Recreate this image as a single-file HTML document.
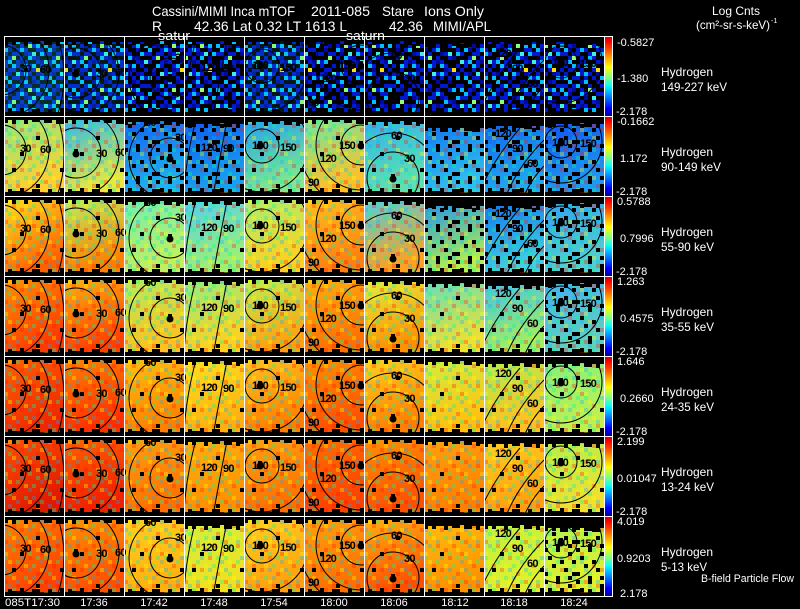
<!DOCTYPE html>
<html><head><meta charset="utf-8"><style>html,body{margin:0;padding:0;background:#000;width:800px;height:609px;overflow:hidden}svg{display:block}</style></head><body>
<svg xmlns="http://www.w3.org/2000/svg" width="800" height="609" viewBox="0 0 800 609" font-family="'Liberation Sans', sans-serif">
<defs>
<pattern id="p1" width="44" height="44" patternUnits="userSpaceOnUse">
<rect width="44" height="44" fill="#0018d0"/>
<path fill="#000" d="M0 0h4v4h-4zM8 0h8v4h-8zM24 0h4v4h-4zM36 0h8v4h-8zM4 4h4v4h-4zM16 4h4v4h-4zM28 4h8v4h-8zM0 8h4v4h-4zM12 8h4v4h-4zM20 8h4v4h-4zM36 8h4v4h-4zM8 12h4v4h-4zM24 12h8v4h-8zM40 12h4v4h-4zM4 16h4v4h-4zM16 16h4v4h-4zM32 16h4v4h-4zM0 20h4v4h-4zM12 20h4v4h-4zM20 20h4v4h-4zM36 20h8v4h-8zM8 24h4v4h-4zM24 24h8v4h-8zM4 28h4v4h-4zM16 28h4v4h-4zM32 28h4v4h-4zM40 28h4v4h-4zM0 32h4v4h-4zM12 32h4v4h-4zM20 32h4v4h-4zM36 32h4v4h-4zM8 36h4v4h-4zM28 36h4v4h-4zM40 36h4v4h-4zM4 40h4v4h-4zM16 40h4v4h-4zM24 40h4v4h-4zM32 40h4v4h-4z"/>
<path fill="#00c0ff" d="M4 0h4v4h-4zM20 0h4v4h-4zM12 4h4v4h-4zM40 8h4v4h-4zM32 8h4v4h-4zM0 12h4v4h-4zM16 12h4v4h-4zM36 16h4v4h-4zM24 20h4v4h-4zM4 24h4v4h-4zM8 28h4v4h-4zM20 28h4v4h-4zM28 28h4v4h-4zM20 36h4v4h-4zM0 40h4v4h-4zM36 40h4v4h-4z"/>
<path fill="#40f0e0" d="M28 16h4v4h-4zM12 36h4v4h-4zM40 24h4v4h-4z"/>
<path fill="#90ff70" d="M24 8h4v4h-4zM8 20h4v4h-4z"/>
<path fill="#ffe000" d="M32 32h4v4h-4z"/>
<path fill="#0008a0" d="M16 0h4v4h-4zM28 0h4v4h-4zM8 8h4v4h-4zM4 12h4v4h-4zM20 16h4v4h-4zM32 20h4v4h-4zM16 24h4v4h-4zM36 24h4v4h-4zM24 32h4v4h-4zM4 36h4v4h-4zM32 36h4v4h-4z"/>
</pattern>
<pattern id="nz" width="40" height="40" patternUnits="userSpaceOnUse">
<path fill="#00ff90" opacity=".35" d="M0 0h4v4h-4zM12 4h4v4h-4zM28 8h4v4h-4zM4 16h4v4h-4zM20 20h4v4h-4zM36 24h4v4h-4zM8 32h4v4h-4zM24 36h4v4h-4zM32 0h4v4h-4z"/>
<path fill="#ff1000" opacity=".3" d="M8 8h4v4h-4zM24 0h4v4h-4zM16 12h4v4h-4zM32 16h4v4h-4zM0 24h4v4h-4zM12 28h4v4h-4zM28 28h4v4h-4zM36 36h4v4h-4zM20 32h4v4h-4z"/>
<path fill="#ffff00" opacity=".35" d="M4 4h4v4h-4zM20 8h4v4h-4zM36 12h4v4h-4zM8 20h4v4h-4zM24 24h4v4h-4zM16 36h4v4h-4zM0 36h4v4h-4zM32 32h4v4h-4z"/>
<path fill="#00b0ff" opacity=".3" d="M16 0h4v4h-4zM36 4h4v4h-4zM0 12h4v4h-4zM28 20h4v4h-4zM12 24h4v4h-4zM4 28h4v4h-4zM24 12h4v4h-4z"/>
</pattern>
<pattern id="ho" width="48" height="48" patternUnits="userSpaceOnUse">
<path fill="#000" d="M8 4h4v4h-4zM32 20h4v4h-4zM16 36h4v4h-4z"/>
</pattern>
<pattern id="ho2" width="32" height="32" patternUnits="userSpaceOnUse">
<path fill="#000" d="M0 0h4v4h-4zM12 0h4v4h-4zM24 4h4v4h-4zM4 8h4v4h-4zM16 12h4v4h-4zM28 12h4v4h-4zM8 16h4v4h-4zM20 20h4v4h-4zM0 24h4v4h-4zM28 24h4v4h-4zM12 28h4v4h-4zM24 28h4v4h-4z"/>
</pattern>
<linearGradient id="cb" x2="0" y2="1"><stop stop-color="#d00000"/><stop offset=".06" stop-color="#ff0000"/><stop offset=".22" stop-color="#ff8000"/><stop offset=".38" stop-color="#ffff00"/><stop offset=".5" stop-color="#90ff70"/><stop offset=".62" stop-color="#00ffff"/><stop offset=".76" stop-color="#0080ff"/><stop offset=".9" stop-color="#0000ff"/><stop offset="1" stop-color="#0000a0"/></linearGradient>

<linearGradient id="a21" x2=".3" y2="1"><stop stop-color="#90e880"/><stop offset="1" stop-color="#ffd030"/></linearGradient>
<linearGradient id="a22" x2=".3" y2="1"><stop stop-color="#30b8f0"/><stop offset="1" stop-color="#e8e840"/></linearGradient>
<linearGradient id="a23" x2=".3" y2="1"><stop stop-color="#1060f0"/><stop offset="1" stop-color="#20b0f0"/></linearGradient>
<linearGradient id="a24" x2=".3" y2="1"><stop stop-color="#1058f0"/><stop offset="1" stop-color="#18a0f0"/></linearGradient>
<linearGradient id="a25" x2=".3" y2="1"><stop stop-color="#20a0f0"/><stop offset="1" stop-color="#80e890"/></linearGradient>
<linearGradient id="a26" x2=".3" y2="1"><stop stop-color="#70e8a0"/><stop offset="1" stop-color="#ffc028"/></linearGradient>
<linearGradient id="a27" x2=".3" y2="1"><stop stop-color="#30b0f0"/><stop offset="1" stop-color="#60e0b0"/></linearGradient>
<linearGradient id="a28" x2=".3" y2="1"><stop stop-color="#1070f0"/><stop offset="1" stop-color="#30c0f0"/></linearGradient>
<linearGradient id="a29" x2=".3" y2="1"><stop stop-color="#1060f0"/><stop offset="1" stop-color="#20a8f0"/></linearGradient>
<linearGradient id="a210" x2=".3" y2="1"><stop stop-color="#1050f0"/><stop offset="1" stop-color="#2098f0"/></linearGradient>

<linearGradient id="a31" x2=".5" y2="1"><stop stop-color="#ffe020"/><stop offset="1" stop-color="#ff6000"/></linearGradient>
<linearGradient id="a32" x2=".3" y2="1"><stop stop-color="#b8f060"/><stop offset="1" stop-color="#ff8000"/></linearGradient>
<linearGradient id="a33" x2=".3" y2="1"><stop stop-color="#70f0b0"/><stop offset="1" stop-color="#c0f060"/></linearGradient>
<linearGradient id="a34" x2=".3" y2="1"><stop stop-color="#50d0f0"/><stop offset="1" stop-color="#a0f070"/></linearGradient>
<linearGradient id="a35" x2=".3" y2="1"><stop stop-color="#a8f070"/><stop offset="1" stop-color="#ffd020"/></linearGradient>
<linearGradient id="a36" x2=".3" y2="1"><stop stop-color="#ffc020"/><stop offset="1" stop-color="#ff8010"/></linearGradient>
<linearGradient id="a37" x2=".3" y2="1"><stop stop-color="#50d0e0"/><stop offset="1" stop-color="#ffa020"/></linearGradient>
<linearGradient id="a38" x2=".3" y2="1"><stop stop-color="#2090f0"/><stop offset="1" stop-color="#b0f050"/></linearGradient>
<linearGradient id="a39" x2=".3" y2="1"><stop stop-color="#1070f0"/><stop offset="1" stop-color="#40d0e0"/></linearGradient>
<linearGradient id="a310" x2=".3" y2="1"><stop stop-color="#30a0f0"/><stop offset="1" stop-color="#50d0d0"/></linearGradient>

<linearGradient id="a41" x2=".5" y2="1"><stop stop-color="#ff9000"/><stop offset="1" stop-color="#ff3800"/></linearGradient>
<linearGradient id="a42" x2=".3" y2="1"><stop stop-color="#ffb010"/><stop offset="1" stop-color="#ff4000"/></linearGradient>
<linearGradient id="a43" x2=".3" y2="1"><stop stop-color="#b0f060"/><stop offset="1" stop-color="#ffc020"/></linearGradient>
<linearGradient id="a44" x2=".3" y2="1"><stop stop-color="#90f080"/><stop offset="1" stop-color="#ffd020"/></linearGradient>
<linearGradient id="a45" x2=".3" y2="1"><stop stop-color="#c0f050"/><stop offset="1" stop-color="#ffa010"/></linearGradient>
<linearGradient id="a46" x2=".3" y2="1"><stop stop-color="#ffb010"/><stop offset="1" stop-color="#ff7000"/></linearGradient>
<linearGradient id="a47" x2=".3" y2="1"><stop stop-color="#e0f040"/><stop offset="1" stop-color="#ff9000"/></linearGradient>
<linearGradient id="a48" x2=".3" y2="1"><stop stop-color="#60e0c0"/><stop offset="1" stop-color="#f0e030"/></linearGradient>
<linearGradient id="a49" x2=".3" y2="1"><stop stop-color="#40c0f0"/><stop offset="1" stop-color="#a0f060"/></linearGradient>
<linearGradient id="a410" x2=".3" y2="1"><stop stop-color="#40b0f0"/><stop offset="1" stop-color="#60d0c0"/></linearGradient>

<linearGradient id="a51" x2=".5" y2="1"><stop stop-color="#ff6000"/><stop offset="1" stop-color="#f02800"/></linearGradient>
<linearGradient id="a52" x2=".3" y2="1"><stop stop-color="#ff8000"/><stop offset="1" stop-color="#ff3000"/></linearGradient>
<linearGradient id="a53" x2=".3" y2="1"><stop stop-color="#ffc010"/><stop offset="1" stop-color="#ff8000"/></linearGradient>
<linearGradient id="a54" x2=".3" y2="1"><stop stop-color="#ffe020"/><stop offset="1" stop-color="#ffb010"/></linearGradient>
<linearGradient id="a55" x2=".3" y2="1"><stop stop-color="#ffc020"/><stop offset="1" stop-color="#ff8000"/></linearGradient>
<linearGradient id="a56" x2=".3" y2="1"><stop stop-color="#ff9000"/><stop offset="1" stop-color="#ff5000"/></linearGradient>
<linearGradient id="a57" x2=".3" y2="1"><stop stop-color="#ffd020"/><stop offset="1" stop-color="#ff8000"/></linearGradient>
<linearGradient id="a58" x2=".3" y2="1"><stop stop-color="#d0f040"/><stop offset="1" stop-color="#ffc010"/></linearGradient>
<linearGradient id="a59" x2=".3" y2="1"><stop stop-color="#b0f050"/><stop offset="1" stop-color="#ffc020"/></linearGradient>
<linearGradient id="a510" x2=".3" y2="1"><stop stop-color="#80f080"/><stop offset="1" stop-color="#c0f050"/></linearGradient>

<linearGradient id="a61" x2=".5" y2="1"><stop stop-color="#ff5000"/><stop offset="1" stop-color="#e01800"/></linearGradient>
<linearGradient id="a62" x2=".3" y2="1"><stop stop-color="#ff6000"/><stop offset="1" stop-color="#f02000"/></linearGradient>
<linearGradient id="a63" x2=".3" y2="1"><stop stop-color="#ffa010"/><stop offset="1" stop-color="#ff7000"/></linearGradient>
<linearGradient id="a64" x2=".3" y2="1"><stop stop-color="#ffb010"/><stop offset="1" stop-color="#ff9000"/></linearGradient>
<linearGradient id="a65" x2=".3" y2="1"><stop stop-color="#ffa010"/><stop offset="1" stop-color="#ff7000"/></linearGradient>
<linearGradient id="a66" x2=".3" y2="1"><stop stop-color="#ff7000"/><stop offset="1" stop-color="#ff4000"/></linearGradient>
<linearGradient id="a67" x2=".3" y2="1"><stop stop-color="#ff9000"/><stop offset="1" stop-color="#ff5000"/></linearGradient>
<linearGradient id="a68" x2=".3" y2="1"><stop stop-color="#ffa010"/><stop offset="1" stop-color="#ff8000"/></linearGradient>
<linearGradient id="a69" x2=".3" y2="1"><stop stop-color="#ffd020"/><stop offset="1" stop-color="#ffa010"/></linearGradient>
<linearGradient id="a610" x2=".3" y2="1"><stop stop-color="#b0f050"/><stop offset="1" stop-color="#f0e030"/></linearGradient>

<linearGradient id="a71" x2=".5" y2="1"><stop stop-color="#ff8000"/><stop offset="1" stop-color="#ff4000"/></linearGradient>
<linearGradient id="a72" x2=".3" y2="1"><stop stop-color="#ff9000"/><stop offset="1" stop-color="#ff5000"/></linearGradient>
<linearGradient id="a73" x2=".3" y2="1"><stop stop-color="#ffd020"/><stop offset="1" stop-color="#ffb010"/></linearGradient>
<linearGradient id="a74" x2=".3" y2="1"><stop stop-color="#d0f040"/><stop offset="1" stop-color="#f0e020"/></linearGradient>
<linearGradient id="a75" x2=".3" y2="1"><stop stop-color="#ffd020"/><stop offset="1" stop-color="#ffa010"/></linearGradient>
<linearGradient id="a76" x2=".3" y2="1"><stop stop-color="#ffa010"/><stop offset="1" stop-color="#ff7000"/></linearGradient>
<linearGradient id="a77" x2=".3" y2="1"><stop stop-color="#ffb010"/><stop offset="1" stop-color="#ff5000"/></linearGradient>
<linearGradient id="a78" x2=".3" y2="1"><stop stop-color="#ffc010"/><stop offset="1" stop-color="#ff9000"/></linearGradient>
<linearGradient id="a79" x2=".3" y2="1"><stop stop-color="#c0f040"/><stop offset="1" stop-color="#e0f030"/></linearGradient>
<linearGradient id="a710" x2=".3" y2="1"><stop stop-color="#b0f050"/><stop offset="1" stop-color="#e0f030"/></linearGradient>

<path id="tm" d="M0 -15H60V5H56V9H52V5H48V8H40V4H36V7H28V5H24V9H20V5H12V8H8V5H4V8H0Z"/>
<path id="bm" d="M0 80H60V72H56V76H48V73H44V77H36V73H28V76H20V72H16V75H8V73H4V76H0Z"/>
<g id="bl"><circle r="3.5" cy="1"/><rect x="-2" y="-4" width="4" height="3"/></g>
<g id="k1" fill="none" stroke="#000"><circle cx="-3" cy="34" r="25"/><circle cx="-3" cy="34" r="48"/><path d="M53.1 0A120 120 0 0 1 53.1 80"/></g>
<g id="k2"><g fill="none" stroke="#000"><circle cx="12" cy="37" r="25"/><circle cx="12" cy="37" r="43"/></g><use href="#bl" x="12" y="37"/></g>
<g id="k3"><g fill="none" stroke="#000"><circle cx="46" cy="42" r="20"/><circle cx="46" cy="42" r="41"/></g><use href="#bl" x="46" y="42"/></g>
<g id="k4" fill="none" stroke="#000"><path d="M13 0Q2 40 0 76"/><path d="M44 0Q36 40 29 80"/></g>
<g id="k5"><g fill="none" stroke="#000"><circle cx="18" cy="30" r="17"/><circle cx="18" cy="30" r="46"/></g><use href="#bl" x="16" y="29"/></g>
<g id="k6"><g fill="none" stroke="#000"><circle cx="57" cy="29" r="20"/><circle cx="57" cy="29" r="45"/><circle cx="57" cy="29" r="62"/></g><use href="#bl" x="57" y="29"/></g>
<g id="k7"><g fill="none" stroke="#000"><circle cx="29" cy="62" r="26"/><path d="M0 27.6A45 45 0 0 1 60 29.4"/></g><use href="#bl" x="29" y="62"/></g>
<g id="k9" fill="none" stroke="#000"><path d="M0 66Q14 38 36 12"/><path d="M22 80Q34 50 60 24"/><path d="M40 80Q48 62 60 50"/></g>
<g id="k10"><g fill="none" stroke="#000"><circle cx="17" cy="26" r="16"/><circle cx="17" cy="26" r="41"/></g><use href="#bl" x="17" y="26"/></g>
</defs>

<rect width="800" height="609" fill="#000"/>

<!-- Row 1 -->
<g transform="translate(0,36)">
<svg x="4" width="60" height="80"><rect y="4" width="60" height="72" fill="url(#p1)"/><rect y="4" width="60" height="72" fill="#20e0c0" opacity=".2"/><use href="#tm" y="1"/><use href="#bm"/><use href="#k1"/></svg>
<svg x="64" width="60" height="80"><rect x="-12" y="4" width="60" height="72" fill="url(#p1)" transform="translate(12)"/><rect y="4" width="60" height="72" fill="#20e0c0" opacity=".1"/><use href="#tm" y="1"/><use href="#bm"/><use href="#k2"/></svg>
<svg x="124" width="60" height="80"><rect x="-24" y="4" width="60" height="72" fill="url(#p1)" transform="translate(24)"/><rect width="60" height="80" fill="url(#ho2)"/><use href="#tm" y="1"/><use href="#bm"/><use href="#k3"/></svg>
<svg x="184" width="60" height="80"><rect x="-36" y="4" width="60" height="72" fill="url(#p1)" transform="translate(36)"/><rect width="60" height="80" fill="url(#ho2)"/><use href="#tm" y="1"/><use href="#bm"/><use href="#k4"/></svg>
<svg x="244" width="60" height="80"><rect x="-4" y="4" width="60" height="72" fill="url(#p1)" transform="translate(4)"/><rect y="4" width="60" height="72" fill="#20e0c0" opacity=".1"/><use href="#tm" y="1"/><use href="#bm"/><use href="#k5"/></svg>
<svg x="304" width="60" height="80"><rect x="-16" y="4" width="60" height="72" fill="url(#p1)" transform="translate(16)"/><rect width="60" height="80" fill="url(#ho2)"/><use href="#tm" y="1"/><use href="#bm"/><use href="#k6"/></svg>
<svg x="364" width="60" height="80"><rect x="-28" y="4" width="60" height="72" fill="url(#p1)" transform="translate(28)"/><rect width="60" height="80" fill="url(#ho2)"/><use href="#tm" y="1"/><use href="#bm"/><use href="#k7"/></svg>
<svg x="424" width="60" height="80"><rect x="-40" y="4" width="60" height="72" fill="url(#p1)" transform="translate(40)"/><rect width="60" height="80" fill="url(#ho2)"/><use href="#tm" y="3"/><use href="#bm"/></svg>
<svg x="484" width="60" height="80"><rect x="-8" y="4" width="60" height="72" fill="url(#p1)" transform="translate(8)"/><rect width="60" height="80" fill="url(#ho2)"/><use href="#tm" y="1"/><use href="#bm"/><use href="#k9"/></svg>
<svg x="544" width="60" height="80"><rect x="-20" y="4" width="60" height="72" fill="url(#p1)" transform="translate(20)"/><rect width="60" height="80" fill="url(#ho2)"/><use href="#tm" y="1"/><use href="#bm"/><use href="#k10"/></svg>
</g>

<!-- Row 2 -->
<g transform="translate(0,116)">
<svg x="4" width="60" height="80"><rect y="4" width="60" height="72" fill="url(#a21)"/><rect width="60" height="80" fill="url(#nz)"/><rect width="60" height="80" fill="url(#ho)"/><use href="#tm" y="-1"/><use href="#bm"/><use href="#k1"/></svg>
<svg x="64" width="60" height="80"><rect y="4" width="60" height="72" fill="url(#a22)"/><rect width="60" height="80" fill="url(#nz)"/><rect width="60" height="80" fill="url(#ho)"/><use href="#tm" y="-1"/><use href="#bm"/><use href="#k2"/></svg>
<svg x="124" width="60" height="80"><rect y="4" width="60" height="72" fill="url(#a23)"/><rect width="60" height="80" fill="url(#nz)"/><rect width="60" height="80" fill="url(#ho2)"/><use href="#tm" y="1"/><use href="#bm"/><use href="#k3"/></svg>
<svg x="184" width="60" height="80"><rect y="4" width="60" height="72" fill="url(#a24)"/><rect width="60" height="80" fill="url(#nz)"/><rect width="60" height="80" fill="url(#ho2)"/><use href="#tm" y="3"/><use href="#bm"/><use href="#k4"/></svg>
<svg x="244" width="60" height="80"><rect y="4" width="60" height="72" fill="url(#a25)"/><rect width="60" height="80" fill="url(#nz)"/><rect width="60" height="80" fill="url(#ho)"/><use href="#tm" y="1"/><use href="#bm"/><use href="#k5"/></svg>
<svg x="304" width="60" height="80"><rect y="4" width="60" height="72" fill="url(#a26)"/><rect width="60" height="80" fill="url(#nz)"/><rect width="60" height="80" fill="url(#ho)"/><use href="#tm" y="-1"/><use href="#bm"/><use href="#k6"/></svg>
<svg x="364" width="60" height="80"><rect y="4" width="60" height="72" fill="url(#a27)"/><rect width="60" height="80" fill="url(#nz)"/><rect width="60" height="80" fill="url(#ho)"/><use href="#tm" y="1"/><use href="#bm"/><use href="#k7"/></svg>
<svg x="424" width="60" height="80"><rect y="4" width="60" height="72" fill="url(#a28)"/><rect width="60" height="80" fill="url(#nz)"/><rect width="60" height="80" fill="url(#ho2)"/><use href="#tm" y="7"/><use href="#bm"/></svg>
<svg x="484" width="60" height="80"><rect y="4" width="60" height="72" fill="url(#a29)"/><rect width="60" height="80" fill="url(#nz)"/><rect width="60" height="80" fill="url(#ho2)"/><use href="#tm" y="5"/><use href="#bm"/><use href="#k9"/></svg>
<svg x="544" width="60" height="80"><rect y="4" width="60" height="72" fill="url(#a210)"/><rect width="60" height="80" fill="url(#nz)"/><rect width="60" height="80" fill="url(#ho2)"/><use href="#tm" y="3"/><use href="#bm"/><use href="#k10"/></svg>
</g>

<!-- Row 3 -->
<g transform="translate(0,196)">
<svg x="4" width="60" height="80"><rect y="4" width="60" height="72" fill="url(#a31)"/><rect width="60" height="80" fill="url(#nz)"/><rect width="60" height="80" fill="url(#ho)"/><use href="#tm" y="-1"/><use href="#bm"/><use href="#k1"/></svg>
<svg x="64" width="60" height="80"><rect y="4" width="60" height="72" fill="url(#a32)"/><rect width="60" height="80" fill="url(#nz)"/><rect width="60" height="80" fill="url(#ho)"/><use href="#tm" y="-1"/><use href="#bm"/><use href="#k2"/></svg>
<svg x="124" width="60" height="80"><rect y="4" width="60" height="72" fill="url(#a33)"/><rect width="60" height="80" fill="url(#nz)"/><rect width="60" height="80" fill="url(#ho)"/><use href="#tm" y="1"/><use href="#bm"/><use href="#k3"/></svg>
<svg x="184" width="60" height="80"><rect y="4" width="60" height="72" fill="url(#a34)"/><rect width="60" height="80" fill="url(#nz)"/><rect width="60" height="80" fill="url(#ho)"/><use href="#tm" y="1"/><use href="#bm"/><use href="#k4"/></svg>
<svg x="244" width="60" height="80"><rect y="4" width="60" height="72" fill="url(#a35)"/><rect width="60" height="80" fill="url(#nz)"/><rect width="60" height="80" fill="url(#ho)"/><use href="#tm" y="-1"/><use href="#bm"/><use href="#k5"/></svg>
<svg x="304" width="60" height="80"><rect y="4" width="60" height="72" fill="url(#a36)"/><rect width="60" height="80" fill="url(#nz)"/><rect width="60" height="80" fill="url(#ho)"/><use href="#tm" y="-1"/><use href="#bm"/><use href="#k6"/></svg>
<svg x="364" width="60" height="80"><rect y="4" width="60" height="72" fill="url(#a37)"/><rect width="60" height="80" fill="url(#nz)"/><rect width="60" height="80" fill="url(#ho)"/><use href="#tm" y="1"/><use href="#bm"/><use href="#k7"/></svg>
<svg x="424" width="60" height="80"><rect y="4" width="60" height="72" fill="url(#a38)"/><rect width="60" height="80" fill="url(#nz)"/><rect width="60" height="80" fill="url(#ho2)"/><use href="#tm" y="5"/><use href="#bm"/></svg>
<svg x="484" width="60" height="80"><rect y="4" width="60" height="72" fill="url(#a39)"/><rect width="60" height="80" fill="url(#nz)"/><rect width="60" height="80" fill="url(#ho2)"/><use href="#tm" y="5"/><use href="#bm"/><use href="#k9"/></svg>
<svg x="544" width="60" height="80"><rect y="4" width="60" height="72" fill="url(#a310)"/><rect width="60" height="80" fill="url(#nz)"/><rect width="60" height="80" fill="url(#ho2)"/><use href="#tm" y="3"/><use href="#bm"/><use href="#k10"/></svg>
</g>

<!-- Row 4 -->
<g transform="translate(0,276)">
<svg x="4" width="60" height="80"><rect y="4" width="60" height="72" fill="url(#a41)"/><rect width="60" height="80" fill="url(#nz)"/><rect width="60" height="80" fill="url(#ho)"/><use href="#tm" y="-1"/><use href="#bm"/><use href="#k1"/></svg>
<svg x="64" width="60" height="80"><rect y="4" width="60" height="72" fill="url(#a42)"/><rect width="60" height="80" fill="url(#nz)"/><rect width="60" height="80" fill="url(#ho)"/><use href="#tm" y="-1"/><use href="#bm"/><use href="#k2"/></svg>
<svg x="124" width="60" height="80"><rect y="4" width="60" height="72" fill="url(#a43)"/><rect width="60" height="80" fill="url(#nz)"/><rect width="60" height="80" fill="url(#ho)"/><use href="#tm" y="-1"/><use href="#bm"/><use href="#k3"/></svg>
<svg x="184" width="60" height="80"><rect y="4" width="60" height="72" fill="url(#a44)"/><rect width="60" height="80" fill="url(#nz)"/><rect width="60" height="80" fill="url(#ho)"/><use href="#tm" y="1"/><use href="#bm"/><use href="#k4"/></svg>
<svg x="244" width="60" height="80"><rect y="4" width="60" height="72" fill="url(#a45)"/><rect width="60" height="80" fill="url(#nz)"/><rect width="60" height="80" fill="url(#ho)"/><use href="#tm" y="-1"/><use href="#bm"/><use href="#k5"/></svg>
<svg x="304" width="60" height="80"><rect y="4" width="60" height="72" fill="url(#a46)"/><rect width="60" height="80" fill="url(#nz)"/><rect width="60" height="80" fill="url(#ho)"/><use href="#tm" y="-1"/><use href="#bm"/><use href="#k6"/></svg>
<svg x="364" width="60" height="80"><rect y="4" width="60" height="72" fill="url(#a47)"/><rect width="60" height="80" fill="url(#nz)"/><rect width="60" height="80" fill="url(#ho)"/><use href="#tm" y="1"/><use href="#bm"/><use href="#k7"/></svg>
<svg x="424" width="60" height="80"><rect y="4" width="60" height="72" fill="url(#a48)"/><rect width="60" height="80" fill="url(#nz)"/><rect width="60" height="80" fill="url(#ho)"/><use href="#tm" y="3"/><use href="#bm"/></svg>
<svg x="484" width="60" height="80"><rect y="4" width="60" height="72" fill="url(#a49)"/><rect width="60" height="80" fill="url(#nz)"/><rect width="60" height="80" fill="url(#ho)"/><use href="#tm" y="5"/><use href="#bm"/><use href="#k9"/></svg>
<svg x="544" width="60" height="80"><rect y="4" width="60" height="72" fill="url(#a410)"/><rect width="60" height="80" fill="url(#nz)"/><rect width="60" height="80" fill="url(#ho2)"/><use href="#tm" y="3"/><use href="#bm"/><use href="#k10"/></svg>
</g>

<!-- Row 5 -->
<g transform="translate(0,356)">
<svg x="4" width="60" height="80"><rect y="4" width="60" height="72" fill="url(#a51)"/><rect width="60" height="80" fill="url(#nz)"/><rect width="60" height="80" fill="url(#ho)"/><use href="#tm" y="-1"/><use href="#bm"/><use href="#k1"/></svg>
<svg x="64" width="60" height="80"><rect y="4" width="60" height="72" fill="url(#a52)"/><rect width="60" height="80" fill="url(#nz)"/><rect width="60" height="80" fill="url(#ho)"/><use href="#tm" y="-1"/><use href="#bm"/><use href="#k2"/></svg>
<svg x="124" width="60" height="80"><rect y="4" width="60" height="72" fill="url(#a53)"/><rect width="60" height="80" fill="url(#nz)"/><rect width="60" height="80" fill="url(#ho)"/><use href="#tm" y="-1"/><use href="#bm"/><use href="#k3"/></svg>
<svg x="184" width="60" height="80"><rect y="4" width="60" height="72" fill="url(#a54)"/><rect width="60" height="80" fill="url(#nz)"/><rect width="60" height="80" fill="url(#ho)"/><use href="#tm" y="1"/><use href="#bm"/><use href="#k4"/></svg>
<svg x="244" width="60" height="80"><rect y="4" width="60" height="72" fill="url(#a55)"/><rect width="60" height="80" fill="url(#nz)"/><rect width="60" height="80" fill="url(#ho)"/><use href="#tm" y="-1"/><use href="#bm"/><use href="#k5"/></svg>
<svg x="304" width="60" height="80"><rect y="4" width="60" height="72" fill="url(#a56)"/><rect width="60" height="80" fill="url(#nz)"/><rect width="60" height="80" fill="url(#ho)"/><use href="#tm" y="-1"/><use href="#bm"/><use href="#k6"/></svg>
<svg x="364" width="60" height="80"><rect y="4" width="60" height="72" fill="url(#a57)"/><rect width="60" height="80" fill="url(#nz)"/><rect width="60" height="80" fill="url(#ho)"/><use href="#tm" y="-1"/><use href="#bm"/><use href="#k7"/></svg>
<svg x="424" width="60" height="80"><rect y="4" width="60" height="72" fill="url(#a58)"/><rect width="60" height="80" fill="url(#nz)"/><rect width="60" height="80" fill="url(#ho)"/><use href="#tm" y="1"/><use href="#bm"/></svg>
<svg x="484" width="60" height="80"><rect y="4" width="60" height="72" fill="url(#a59)"/><rect width="60" height="80" fill="url(#nz)"/><rect width="60" height="80" fill="url(#ho)"/><use href="#tm" y="3"/><use href="#bm"/><use href="#k9"/></svg>
<svg x="544" width="60" height="80"><rect y="4" width="60" height="72" fill="url(#a510)"/><rect width="60" height="80" fill="url(#nz)"/><rect width="60" height="80" fill="url(#ho)"/><use href="#tm" y="3"/><use href="#bm"/><use href="#k10"/></svg>
</g>

<!-- Row 6 -->
<g transform="translate(0,436)">
<svg x="4" width="60" height="80"><rect y="4" width="60" height="72" fill="url(#a61)"/><rect width="60" height="80" fill="url(#nz)"/><rect width="60" height="80" fill="url(#ho)"/><use href="#tm" y="-1"/><use href="#bm"/><use href="#k1"/></svg>
<svg x="64" width="60" height="80"><rect y="4" width="60" height="72" fill="url(#a62)"/><rect width="60" height="80" fill="url(#nz)"/><rect width="60" height="80" fill="url(#ho)"/><use href="#tm" y="-1"/><use href="#bm"/><use href="#k2"/></svg>
<svg x="124" width="60" height="80"><rect y="4" width="60" height="72" fill="url(#a63)"/><rect width="60" height="80" fill="url(#nz)"/><rect width="60" height="80" fill="url(#ho)"/><use href="#tm" y="-1"/><use href="#bm"/><use href="#k3"/></svg>
<svg x="184" width="60" height="80"><rect y="4" width="60" height="72" fill="url(#a64)"/><rect width="60" height="80" fill="url(#nz)"/><rect width="60" height="80" fill="url(#ho)"/><use href="#tm" y="1"/><use href="#bm"/><use href="#k4"/></svg>
<svg x="244" width="60" height="80"><rect y="4" width="60" height="72" fill="url(#a65)"/><rect width="60" height="80" fill="url(#nz)"/><rect width="60" height="80" fill="url(#ho)"/><use href="#tm" y="-1"/><use href="#bm"/><use href="#k5"/></svg>
<svg x="304" width="60" height="80"><rect y="4" width="60" height="72" fill="url(#a66)"/><rect width="60" height="80" fill="url(#nz)"/><rect width="60" height="80" fill="url(#ho)"/><use href="#tm" y="-1"/><use href="#bm"/><use href="#k6"/></svg>
<svg x="364" width="60" height="80"><rect y="4" width="60" height="72" fill="url(#a67)"/><rect width="60" height="80" fill="url(#nz)"/><rect width="60" height="80" fill="url(#ho)"/><use href="#tm" y="-1"/><use href="#bm"/><use href="#k7"/></svg>
<svg x="424" width="60" height="80"><rect y="4" width="60" height="72" fill="url(#a68)"/><rect width="60" height="80" fill="url(#nz)"/><rect width="60" height="80" fill="url(#ho)"/><use href="#tm" y="1"/><use href="#bm"/></svg>
<svg x="484" width="60" height="80"><rect y="4" width="60" height="72" fill="url(#a69)"/><rect width="60" height="80" fill="url(#nz)"/><rect width="60" height="80" fill="url(#ho)"/><use href="#tm" y="3"/><use href="#bm"/><use href="#k9"/></svg>
<svg x="544" width="60" height="80"><rect y="4" width="60" height="72" fill="url(#a610)"/><rect width="60" height="80" fill="url(#nz)"/><rect width="60" height="80" fill="url(#ho)"/><use href="#tm" y="3"/><use href="#bm"/><use href="#k10"/></svg>
</g>

<!-- Row 7 -->
<g transform="translate(0,516)">
<svg x="4" width="60" height="80"><rect y="4" width="60" height="72" fill="url(#a71)"/><rect width="60" height="80" fill="url(#nz)"/><rect width="60" height="80" fill="url(#ho)"/><use href="#tm" y="-1"/><use href="#bm"/><use href="#k1"/></svg>
<svg x="64" width="60" height="80"><rect y="4" width="60" height="72" fill="url(#a72)"/><rect width="60" height="80" fill="url(#nz)"/><rect width="60" height="80" fill="url(#ho)"/><use href="#tm" y="-1"/><use href="#bm"/><use href="#k2"/></svg>
<svg x="124" width="60" height="80"><rect y="4" width="60" height="72" fill="url(#a73)"/><rect width="60" height="80" fill="url(#nz)"/><rect width="60" height="80" fill="url(#ho)"/><use href="#tm" y="-1"/><use href="#bm"/><use href="#k3"/></svg>
<svg x="184" width="60" height="80"><rect y="4" width="60" height="72" fill="url(#a74)"/><rect width="60" height="80" fill="url(#nz)"/><rect width="60" height="80" fill="url(#ho)"/><use href="#tm" y="5"/><use href="#bm"/><use href="#k4"/></svg>
<svg x="244" width="60" height="80"><rect y="4" width="60" height="72" fill="url(#a75)"/><rect width="60" height="80" fill="url(#nz)"/><rect width="60" height="80" fill="url(#ho)"/><use href="#tm" y="-1"/><use href="#bm"/><use href="#k5"/></svg>
<svg x="304" width="60" height="80"><rect y="4" width="60" height="72" fill="url(#a76)"/><rect width="60" height="80" fill="url(#nz)"/><rect width="60" height="80" fill="url(#ho)"/><use href="#tm" y="-1"/><use href="#bm"/><use href="#k6"/></svg>
<svg x="364" width="60" height="80"><rect y="4" width="60" height="72" fill="url(#a77)"/><rect width="60" height="80" fill="url(#nz)"/><rect width="60" height="80" fill="url(#ho)"/><use href="#tm" y="-1"/><use href="#bm"/><use href="#k7"/></svg>
<svg x="424" width="60" height="80"><rect y="4" width="60" height="72" fill="url(#a78)"/><rect width="60" height="80" fill="url(#nz)"/><rect width="60" height="80" fill="url(#ho)"/><use href="#tm" y="5"/><use href="#bm"/></svg>
<svg x="484" width="60" height="80"><rect y="4" width="60" height="72" fill="url(#a79)"/><rect width="60" height="80" fill="url(#nz)"/><rect width="60" height="80" fill="url(#ho)"/><use href="#tm" y="5"/><use href="#bm"/><use href="#k9"/></svg>
<svg x="544" width="60" height="80"><rect y="4" width="60" height="72" fill="url(#a710)"/><rect width="60" height="80" fill="url(#nz)"/><rect width="60" height="80" fill="url(#ho2)"/><use href="#tm" y="7"/><use href="#bm"/><use href="#k10"/></svg>
</g>

<!-- contour labels -->
<g font-size="11" font-weight="bold" fill="#000" letter-spacing="-0.8">
<g transform="translate(0,36)"><text x="20" y="36">30</text><text x="40" y="37">60</text><text x="96" y="41">30</text><text x="115" y="40">60</text><text x="145" y="10">60</text><text x="175" y="25">30</text><text x="201" y="35">120</text><text x="223" y="36">90</text><text x="252" y="33">180</text><text x="280" y="35">150</text><text x="320" y="46">120</text><text x="339" y="33">150</text><text x="308" y="70">90</text><text x="391" y="23">60</text><text x="404" y="46">30</text><text x="495" y="21">120</text><text x="512" y="36">90</text><text x="527" y="51">60</text><text x="552" y="30">180</text><text x="580" y="31">150</text></g>
<g transform="translate(0,116)"><text x="20" y="36">30</text><text x="40" y="37">60</text><text x="96" y="41">30</text><text x="115" y="40">60</text><text x="145" y="10">60</text><text x="175" y="25">30</text><text x="201" y="35">120</text><text x="223" y="36">90</text><text x="252" y="33">180</text><text x="280" y="35">150</text><text x="320" y="46">120</text><text x="339" y="33">150</text><text x="308" y="70">90</text><text x="391" y="23">60</text><text x="404" y="46">30</text><text x="495" y="21">120</text><text x="512" y="36">90</text><text x="527" y="51">60</text><text x="552" y="30">180</text><text x="580" y="31">150</text></g>
<g transform="translate(0,196)"><text x="20" y="36">30</text><text x="40" y="37">60</text><text x="96" y="41">30</text><text x="115" y="40">60</text><text x="145" y="10">60</text><text x="175" y="25">30</text><text x="201" y="35">120</text><text x="223" y="36">90</text><text x="252" y="33">180</text><text x="280" y="35">150</text><text x="320" y="46">120</text><text x="339" y="33">150</text><text x="308" y="70">90</text><text x="391" y="23">60</text><text x="404" y="46">30</text><text x="495" y="21">120</text><text x="512" y="36">90</text><text x="527" y="51">60</text><text x="552" y="30">180</text><text x="580" y="31">150</text></g>
<g transform="translate(0,276)"><text x="20" y="36">30</text><text x="40" y="37">60</text><text x="96" y="41">30</text><text x="115" y="40">60</text><text x="145" y="10">60</text><text x="175" y="25">30</text><text x="201" y="35">120</text><text x="223" y="36">90</text><text x="252" y="33">180</text><text x="280" y="35">150</text><text x="320" y="46">120</text><text x="339" y="33">150</text><text x="308" y="70">90</text><text x="391" y="23">60</text><text x="404" y="46">30</text><text x="495" y="21">120</text><text x="512" y="36">90</text><text x="527" y="51">60</text><text x="552" y="30">180</text><text x="580" y="31">150</text></g>
<g transform="translate(0,356)"><text x="20" y="36">30</text><text x="40" y="37">60</text><text x="96" y="41">30</text><text x="115" y="40">60</text><text x="145" y="10">60</text><text x="175" y="25">30</text><text x="201" y="35">120</text><text x="223" y="36">90</text><text x="252" y="33">180</text><text x="280" y="35">150</text><text x="320" y="46">120</text><text x="339" y="33">150</text><text x="308" y="70">90</text><text x="391" y="23">60</text><text x="404" y="46">30</text><text x="495" y="21">120</text><text x="512" y="36">90</text><text x="527" y="51">60</text><text x="552" y="30">180</text><text x="580" y="31">150</text></g>
<g transform="translate(0,436)"><text x="20" y="36">30</text><text x="40" y="37">60</text><text x="96" y="41">30</text><text x="115" y="40">60</text><text x="145" y="10">60</text><text x="175" y="25">30</text><text x="201" y="35">120</text><text x="223" y="36">90</text><text x="252" y="33">180</text><text x="280" y="35">150</text><text x="320" y="46">120</text><text x="339" y="33">150</text><text x="308" y="70">90</text><text x="391" y="23">60</text><text x="404" y="46">30</text><text x="495" y="21">120</text><text x="512" y="36">90</text><text x="527" y="51">60</text><text x="552" y="30">180</text><text x="580" y="31">150</text></g>
<g transform="translate(0,516)"><text x="20" y="36">30</text><text x="40" y="37">60</text><text x="96" y="41">30</text><text x="115" y="40">60</text><text x="145" y="10">60</text><text x="175" y="25">30</text><text x="201" y="35">120</text><text x="223" y="36">90</text><text x="252" y="33">180</text><text x="280" y="35">150</text><text x="320" y="46">120</text><text x="339" y="33">150</text><text x="308" y="70">90</text><text x="391" y="23">60</text><text x="404" y="46">30</text><text x="495" y="21">120</text><text x="512" y="36">90</text><text x="527" y="51">60</text><text x="552" y="30">180</text><text x="580" y="31">150</text></g>
</g>

<!-- colorbars -->
<g fill="url(#cb)">
<rect x="605" y="37" width="7" height="79"/><rect x="605" y="117" width="7" height="79"/><rect x="605" y="197" width="7" height="79"/><rect x="605" y="277" width="7" height="79"/><rect x="605" y="357" width="7" height="79"/><rect x="605" y="437" width="7" height="79"/><rect x="605" y="517" width="7" height="79"/>
</g>

<!-- grid lines -->
<g fill="#fff">
<rect x="4" y="36" width="1" height="561"/><rect x="64" y="36" width="1" height="561"/><rect x="124" y="36" width="1" height="561"/><rect x="184" y="36" width="1" height="561"/><rect x="244" y="36" width="1" height="561"/><rect x="304" y="36" width="1" height="561"/><rect x="364" y="36" width="1" height="561"/><rect x="424" y="36" width="1" height="561"/><rect x="484" y="36" width="1" height="561"/><rect x="544" y="36" width="1" height="561"/><rect x="604" y="36" width="1" height="561"/><rect x="612" y="36" width="1" height="561"/>
<rect x="4" y="36" width="609" height="1"/><rect x="4" y="116" width="609" height="1"/><rect x="4" y="196" width="609" height="1"/><rect x="4" y="276" width="609" height="1"/><rect x="4" y="356" width="609" height="1"/><rect x="4" y="436" width="609" height="1"/><rect x="4" y="516" width="609" height="1"/><rect x="4" y="596" width="609" height="1"/>
</g>

<!-- header text -->
<g fill="#fff">
<text x="152" y="16" font-size="14" textLength="143" lengthAdjust="spacingAndGlyphs">Cassini/MIMI Inca mTOF</text>
<text x="311" y="16" font-size="14" textLength="59" lengthAdjust="spacingAndGlyphs">2011-085</text>
<text x="382" y="16" font-size="14" textLength="32" lengthAdjust="spacingAndGlyphs">Stare</text>
<text x="424" y="16" font-size="14" textLength="60" lengthAdjust="spacingAndGlyphs">Ions Only</text>
<text x="152" y="31" font-size="14" textLength="10" lengthAdjust="spacingAndGlyphs">R</text>
<text x="194" y="31" font-size="14" textLength="153" lengthAdjust="spacingAndGlyphs">42.36 Lat 0.32 LT 1613 L</text>
<text x="389" y="31" font-size="14" textLength="34" lengthAdjust="spacingAndGlyphs">42.36</text>
<text x="433" y="31" font-size="14" textLength="58" lengthAdjust="spacingAndGlyphs">MIMI/APL</text>
<text x="158" y="40" font-size="13" textLength="32" lengthAdjust="spacingAndGlyphs">satur</text>
<text x="346" y="40" font-size="13" textLength="39" lengthAdjust="spacingAndGlyphs">saturn</text>
<text x="712" y="15" font-size="12" textLength="48" lengthAdjust="spacingAndGlyphs">Log Cnts</text>
<text x="696" y="29" font-size="12" textLength="74" lengthAdjust="spacingAndGlyphs">(cm²-sr-s-keV)</text>
<text x="771" y="23" font-size="7">-1</text>
</g>

<!-- colorbar labels and species -->
<g fill="#fff" font-size="11">
<text x="617" y="46">-0.5827</text><text x="617" y="82">-1.380</text><text x="616" y="115">-2.178</text>
<text x="617" y="125">-0.1662</text><text x="620" y="162">1.172</text><text x="616" y="195">-2.178</text>
<text x="617" y="205">0.5788</text><text x="620" y="242">0.7996</text><text x="616" y="275">-2.178</text>
<text x="617" y="285">1.263</text><text x="620" y="322">0.4575</text><text x="616" y="355">-2.178</text>
<text x="617" y="365">1.646</text><text x="620" y="402">0.2660</text><text x="616" y="435">-2.178</text>
<text x="617" y="445">2.199</text><text x="617" y="482">0.01047</text><text x="616" y="515">-2.178</text>
<text x="617" y="525">4.019</text><text x="617" y="562">0.9203</text><text x="620" y="597">2.178</text>
</g>
<g fill="#fff" font-size="12">
<text x="661" y="76" textLength="52" lengthAdjust="spacingAndGlyphs">Hydrogen</text><text x="661" y="91" textLength="66" lengthAdjust="spacingAndGlyphs">149-227 keV</text>
<text x="661" y="156" textLength="52" lengthAdjust="spacingAndGlyphs">Hydrogen</text><text x="661" y="171" textLength="60" lengthAdjust="spacingAndGlyphs">90-149 keV</text>
<text x="661" y="236" textLength="52" lengthAdjust="spacingAndGlyphs">Hydrogen</text><text x="661" y="251" textLength="53" lengthAdjust="spacingAndGlyphs">55-90 keV</text>
<text x="661" y="316" textLength="52" lengthAdjust="spacingAndGlyphs">Hydrogen</text><text x="661" y="331" textLength="53" lengthAdjust="spacingAndGlyphs">35-55 keV</text>
<text x="661" y="396" textLength="52" lengthAdjust="spacingAndGlyphs">Hydrogen</text><text x="661" y="411" textLength="53" lengthAdjust="spacingAndGlyphs">24-35 keV</text>
<text x="661" y="476" textLength="52" lengthAdjust="spacingAndGlyphs">Hydrogen</text><text x="661" y="491" textLength="53" lengthAdjust="spacingAndGlyphs">13-24 keV</text>
<text x="661" y="556" textLength="52" lengthAdjust="spacingAndGlyphs">Hydrogen</text><text x="661" y="571" textLength="46" lengthAdjust="spacingAndGlyphs">5-13 keV</text>
</g>
<text x="701" y="582" fill="#fff" font-size="11" textLength="93" lengthAdjust="spacingAndGlyphs">B-field Particle Flow</text>

<!-- time labels -->
<g fill="#fff" font-size="11">
<text x="5" y="606" textLength="55" lengthAdjust="spacingAndGlyphs">085T17:30</text>
<g text-anchor="middle">
<text x="94" y="606">17:36</text><text x="154" y="606">17:42</text><text x="214" y="606">17:48</text><text x="274" y="606">17:54</text><text x="334" y="606">18:00</text><text x="394" y="606">18:06</text><text x="455" y="606">18:12</text><text x="514" y="606">18:18</text><text x="574" y="606">18:24</text>
</g>
</g>
</svg>
</body></html>
